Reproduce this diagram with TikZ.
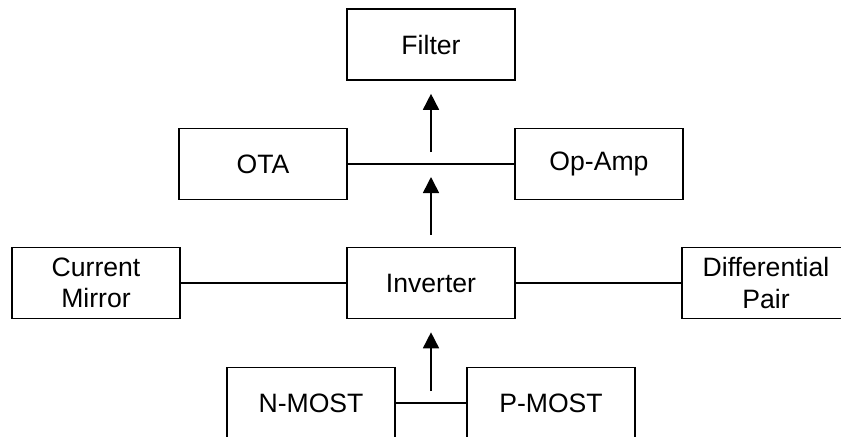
\documentclass[tikz,border=0pt]{standalone}
\usepackage{fontspec}
\setmainfont{Liberation Sans}
\usetikzlibrary{arrows.meta}

\begin{document}
\begin{tikzpicture}[x=1pt,y=1pt,line width=0.8pt,
    blk/.style={draw,minimum width=84pt,minimum height=35.5pt,inner sep=0pt,
        align=center,font=\fontsize{13.3}{15.8}\selectfont},
    up/.style={-{Triangle[length=8pt,width=8pt]},shorten <=6pt,shorten >=6.5pt}]
    \useasboundingbox (0,0) rectangle (420.5,-218);
    \clip (0,0) rectangle (420.5,-218);
        \node[blk] (filter) at (215.5,-22.25) {Filter};
        \node[blk] (ota) at (131.5,-82) {OTA};
        \node[blk] (opamp) at (299.5,-82) {Op-Amp};
        \node[blk] (mirror) at (48,-141.5) {Current\\Mirror};
        \node[blk] (inv) at (215.5,-141.5) {Inverter};
        \node[blk] (diffpair) at (383,-141.5) {Differential\\Pair};
        \node[blk] (nmost) at (155.5,-201.5) {N-MOST};
        \node[blk] (pmost) at (275.5,-201.5) {P-MOST};
        \draw (ota) -- (opamp);
        \draw (mirror) -- (inv);
        \draw (inv) -- (diffpair);
        \draw (nmost) -- (pmost);
        \draw[up] (filter.south |- ota.east) -- (filter.south);
        \draw[up] (inv.north) -- (inv.north |- opamp.west);
        \draw[up] (inv.south |- nmost.east) -- (inv.south);
\end{tikzpicture}
\end{document}
